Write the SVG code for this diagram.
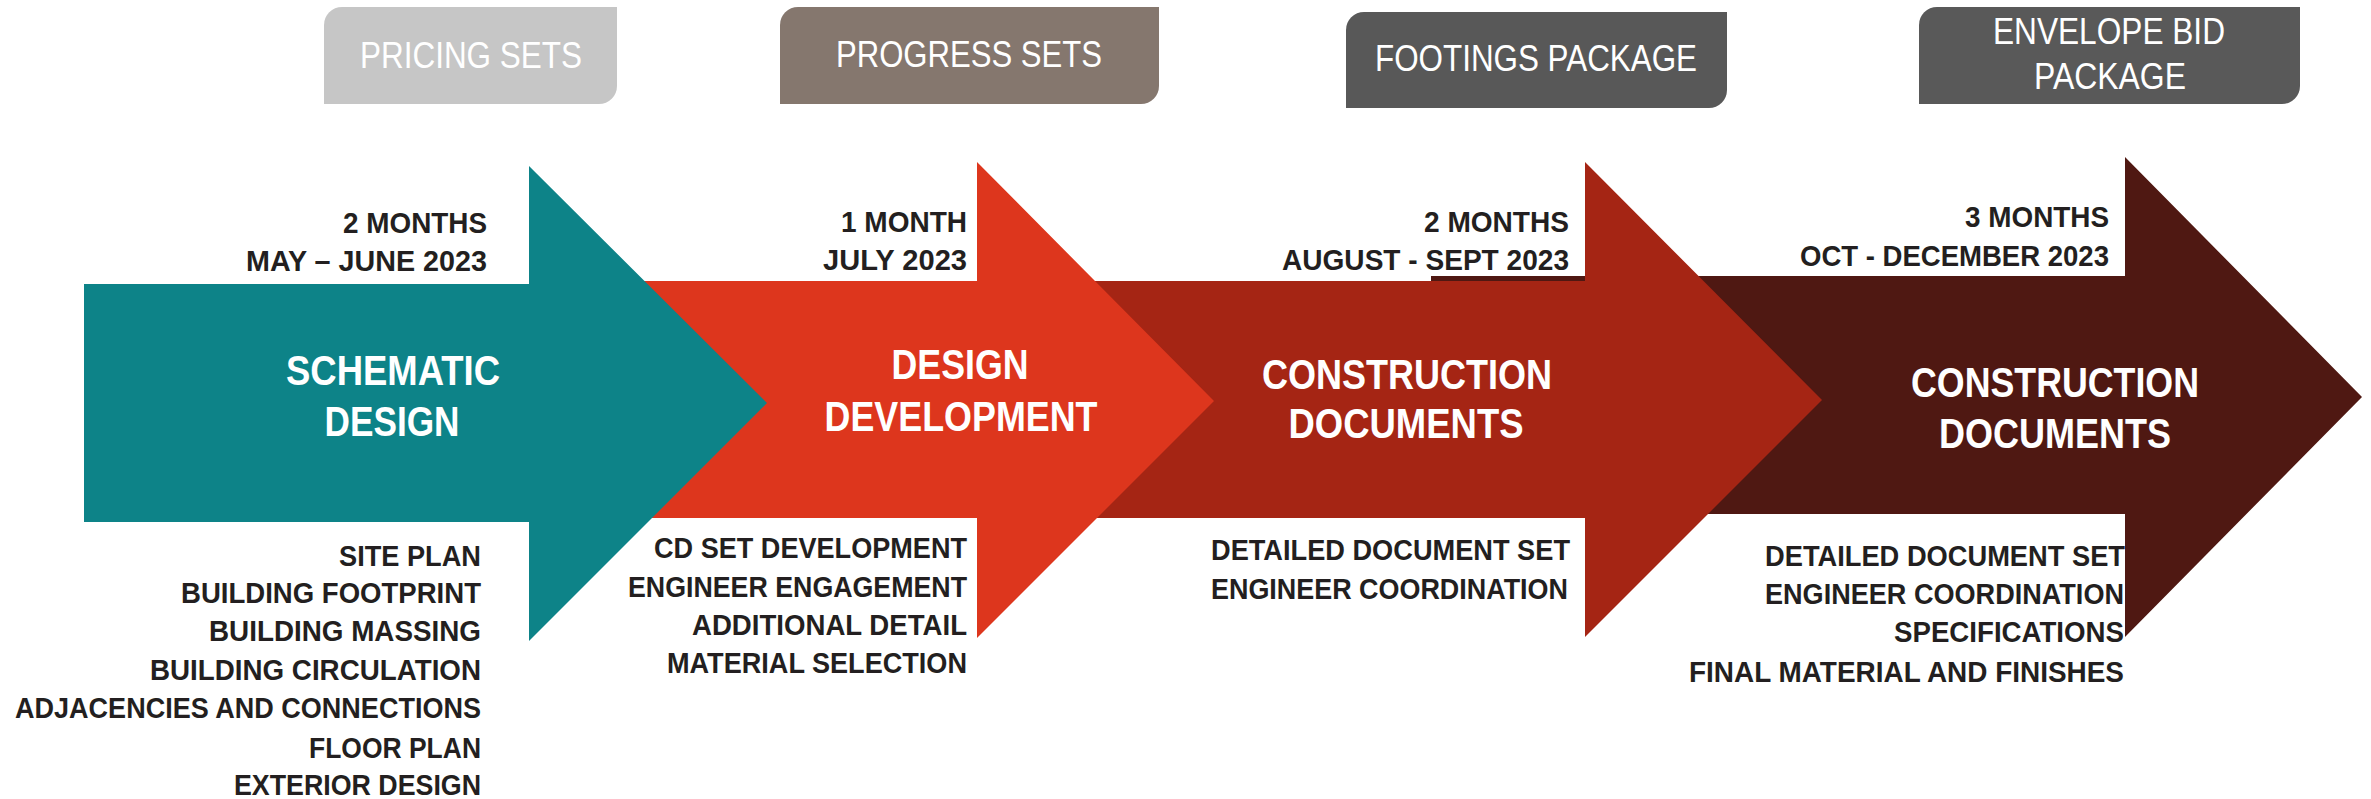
<svg xmlns="http://www.w3.org/2000/svg" width="2371" height="799" viewBox="0 0 2371 799">
<style>
text { font-family: "Liberation Sans", Arial, sans-serif; }
.lbl { font-size: 36px; fill: #ffffff; text-anchor: middle; }
.date { font-size: 30px; font-weight: bold; fill: #231f20; text-anchor: end; }
.title { font-size: 42px; font-weight: bold; fill: #ffffff; text-anchor: middle; }
.item { font-size: 29px; font-weight: bold; fill: #231f20; text-anchor: end; }
</style>
<rect width="2371" height="799" fill="#ffffff"/>

<g id="label-pricing">
<path d="M342,7 H617 V86 A18,18 0 0 1 599,104 H324 V25 A18,18 0 0 1 342,7 Z" fill="#c6c6c6"/>
<text class="lbl" x="471" y="68" textLength="222" lengthAdjust="spacingAndGlyphs">PRICING SETS</text>
</g>
<g id="label-progress">
<path d="M798,7 H1159 V86 A18,18 0 0 1 1141,104 H780 V25 A18,18 0 0 1 798,7 Z" fill="#85776e"/>
<text class="lbl" x="969" y="67" textLength="266" lengthAdjust="spacingAndGlyphs">PROGRESS SETS</text>
</g>
<g id="label-footings">
<path d="M1364,12 H1727 V90 A18,18 0 0 1 1709,108 H1346 V30 A18,18 0 0 1 1364,12 Z" fill="#585858"/>
<text class="lbl" x="1536" y="71" textLength="322" lengthAdjust="spacingAndGlyphs">FOOTINGS PACKAGE</text>
</g>
<g id="label-envelope">
<path d="M1937,7 H2300 V86 A18,18 0 0 1 2282,104 H1919 V25 A18,18 0 0 1 1937,7 Z" fill="#595959"/>
<text class="lbl" x="2109" y="44" textLength="232" lengthAdjust="spacingAndGlyphs">ENVELOPE BID</text>
<text class="lbl" x="2110" y="89" textLength="152" lengthAdjust="spacingAndGlyphs">PACKAGE</text>
</g>

<g id="phase-cd2">
<polygon points="1431,276 2125,276 2125,157 2362,397 2125,637 2125,514 1431,514" fill="#4f1812"/>
<text class="date" x="2109" y="227" textLength="144" lengthAdjust="spacingAndGlyphs">3 MONTHS</text>
<text class="date" x="2109" y="266" textLength="309" lengthAdjust="spacingAndGlyphs">OCT - DECEMBER 2023</text>
<text class="title" x="2055" y="397" textLength="288" lengthAdjust="spacingAndGlyphs">CONSTRUCTION</text>
<text class="title" x="2055" y="448" textLength="232" lengthAdjust="spacingAndGlyphs">DOCUMENTS</text>
<text class="item" x="2125" y="566" textLength="360" lengthAdjust="spacingAndGlyphs">DETAILED DOCUMENT SET</text>
<text class="item" x="2124" y="604" textLength="359" lengthAdjust="spacingAndGlyphs">ENGINEER COORDINATION</text>
<text class="item" x="2124" y="642" textLength="230" lengthAdjust="spacingAndGlyphs">SPECIFICATIONS</text>
<text class="item" x="2124" y="682" textLength="435" lengthAdjust="spacingAndGlyphs">FINAL MATERIAL AND FINISHES</text>
</g>

<g id="phase-cd1">
<polygon points="990,281 1585,281 1585,162 1822,400 1585,637 1585,518 990,518" fill="#a52514"/>
<text class="date" x="1569" y="232" textLength="145" lengthAdjust="spacingAndGlyphs">2 MONTHS</text>
<text class="date" x="1569" y="270" textLength="287" lengthAdjust="spacingAndGlyphs">AUGUST - SEPT 2023</text>
<text class="title" x="1407" y="389" textLength="290" lengthAdjust="spacingAndGlyphs">CONSTRUCTION</text>
<text class="title" x="1406" y="438" textLength="235" lengthAdjust="spacingAndGlyphs">DOCUMENTS</text>
<text class="item" x="1570" y="560" textLength="359" lengthAdjust="spacingAndGlyphs">DETAILED DOCUMENT SET</text>
<text class="item" x="1568" y="599" textLength="357" lengthAdjust="spacingAndGlyphs">ENGINEER COORDINATION</text>
</g>

<g id="phase-dd">
<polygon points="560,281 977,281 977,162 1214,401 977,638 977,518 560,518" fill="#dd361d"/>
<text class="date" x="967" y="232" textLength="126" lengthAdjust="spacingAndGlyphs">1 MONTH</text>
<text class="date" x="967" y="270" textLength="144" lengthAdjust="spacingAndGlyphs">JULY 2023</text>
<text class="title" x="960" y="379" textLength="137" lengthAdjust="spacingAndGlyphs">DESIGN</text>
<text class="title" x="961" y="431" textLength="273" lengthAdjust="spacingAndGlyphs">DEVELOPMENT</text>
<text class="item" x="967" y="558" textLength="313" lengthAdjust="spacingAndGlyphs">CD SET DEVELOPMENT</text>
<text class="item" x="967" y="597" textLength="339" lengthAdjust="spacingAndGlyphs">ENGINEER ENGAGEMENT</text>
<text class="item" x="967" y="635" textLength="275" lengthAdjust="spacingAndGlyphs">ADDITIONAL DETAIL</text>
<text class="item" x="967" y="673" textLength="300" lengthAdjust="spacingAndGlyphs">MATERIAL SELECTION</text>
</g>

<g id="phase-sd">
<polygon points="84,284 529,284 529,166 767,403 529,641 529,522 84,522" fill="#0d8388"/>
<text class="date" x="487" y="233" textLength="144" lengthAdjust="spacingAndGlyphs">2 MONTHS</text>
<text class="date" x="487" y="271" textLength="241" lengthAdjust="spacingAndGlyphs">MAY – JUNE 2023</text>
<text class="title" x="393" y="385" textLength="214" lengthAdjust="spacingAndGlyphs">SCHEMATIC</text>
<text class="title" x="392" y="436" textLength="135" lengthAdjust="spacingAndGlyphs">DESIGN</text>
<text class="item" x="481" y="566" textLength="142" lengthAdjust="spacingAndGlyphs">SITE PLAN</text>
<text class="item" x="481" y="603" textLength="300" lengthAdjust="spacingAndGlyphs">BUILDING FOOTPRINT</text>
<text class="item" x="481" y="641" textLength="272" lengthAdjust="spacingAndGlyphs">BUILDING MASSING</text>
<text class="item" x="481" y="680" textLength="331" lengthAdjust="spacingAndGlyphs">BUILDING CIRCULATION</text>
<text class="item" x="481" y="718" textLength="466" lengthAdjust="spacingAndGlyphs">ADJACENCIES AND CONNECTIONS</text>
<text class="item" x="481" y="758" textLength="172" lengthAdjust="spacingAndGlyphs">FLOOR PLAN</text>
<text class="item" x="481" y="795" textLength="247" lengthAdjust="spacingAndGlyphs">EXTERIOR DESIGN</text>
</g>

<g id="connectors"></g>
</svg>
